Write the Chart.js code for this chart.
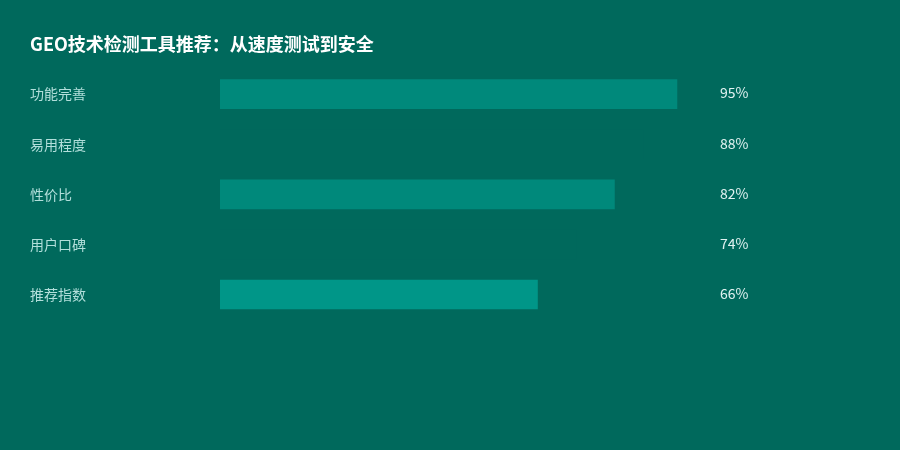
<!DOCTYPE html>
<html>
<head>
<meta charset="utf-8">
<script src="https://cdn.jsdelivr.net/npm/chart.js@4"></script>
<style>
html,body{margin:0;padding:0;background:#00695C;}
#wrap{width:900px;height:450px;position:relative;}
</style>
</head>
<body>
<div id="wrap"><canvas id="c"></canvas></div>
<script>
const titleText = 'GEO技术检测工具推荐：从速度测试到安全';
const categories = ['功能完善', '易用程度', '性价比', '用户口碑', '推荐指数'];
const values = [95, 88, 82, 74, 66];
const valueLabels = ['95%', '88%', '82%', '74%', '66%'];
const barColors = ['#00897B', '#00695C', '#00897B', '#00695C', '#009688'];

const FONT = '"Noto Sans CJK SC", "Noto Sans", sans-serif';

const valuePlugin = {
  id: 'valueLabels',
  afterDatasetsDraw(chart) {
    const ctx = chart.ctx;
    const yScale = chart.scales.y;
    const x = chart.chartArea.right + 19;
    ctx.save();
    ctx.font = '14px ' + FONT;
    ctx.fillStyle = '#E0F2F1';
    ctx.textAlign = 'left';
    ctx.textBaseline = 'middle';
    valueLabels.forEach((t, i) => {
      ctx.fillText(t, x, yScale.getPixelForValue(i) - 1);
    });
    ctx.restore();
  }
};

new Chart(document.getElementById('c'), {
  type: 'bar',
  data: {
    labels: categories,
    datasets: [{
      data: values,
      backgroundColor: barColors,
      borderWidth: 0,
      barThickness: 29
    }]
  },
  options: {
    indexAxis: 'y',
    responsive: true,
    maintainAspectRatio: false,
    animation: false,
    layout: { padding: { left: 30, right: 199, top: 24, bottom: 130.5 } },
    plugins: {
      legend: { display: false },
      tooltip: { enabled: false },
      title: {
        display: true,
        text: titleText,
        align: 'start',
        color: '#FFFFFF',
        font: { family: FONT, size: 18, weight: 'bold', lineHeight: 1.2 },
        padding: { top: 9, bottom: 14.5 }
      }
    },
    scales: {
      x: { display: false, min: 0, max: 100 },
      y: {
        grid: { display: false },
        border: { display: false },
        ticks: {
          crossAlign: 'far',
          color: '#B2DFDB',
          font: { family: FONT, size: 14 },
          padding: 0
        },
        afterFit(scale) { scale.width = 190; }
      }
    }
  },
  plugins: [valuePlugin]
});
</script>
</body>
</html>
